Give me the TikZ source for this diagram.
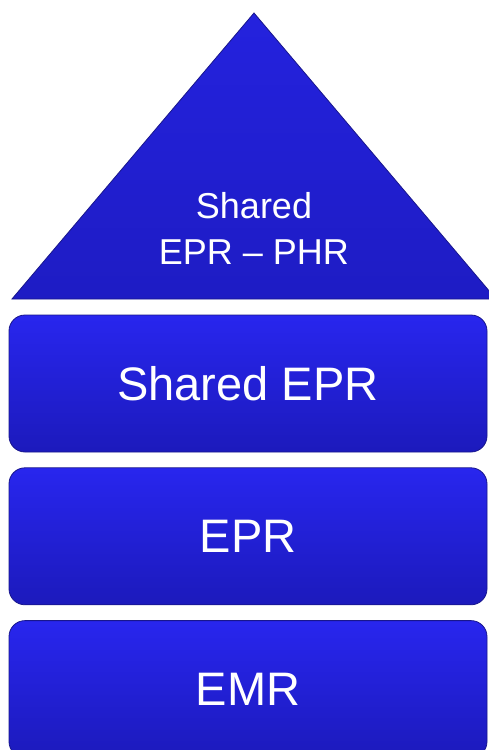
\documentclass[tikz,border=0pt]{standalone}
\usepackage{fontspec}
\setmainfont{Liberation Sans}
\usetikzlibrary{positioning,calc}

\definecolor{layerTop}{RGB}{40,38,238}
\definecolor{layerBot}{RGB}{28,26,188}
\definecolor{layerEdge}{RGB}{24,22,140}
\definecolor{peakTop}{RGB}{36,34,222}
\definecolor{peakBot}{RGB}{30,28,196}

\begin{document}
\begin{tikzpicture}[
  x=1pt,y=-1pt,
  node distance=15pt,
  layer/.style={rectangle,rounded corners=16pt,draw=layerEdge,line width=0.8pt,top color=layerTop,bottom color=layerBot,minimum width=478pt,minimum height=137pt,inner sep=0pt,text=white,font=\fontsize{47}{56}\selectfont},
  peak/.style={draw=layerEdge,line width=0.8pt,top color=peakTop,bottom color=peakBot},
  peaktext/.style={align=center,inner sep=0pt,text=white,font=\fontsize{36}{46}\selectfont}
]
\useasboundingbox (0,0) rectangle (488,750);
% layers of the stack
\node[layer] (sepr) at (248,383.5) {Shared EPR};
\node[layer,below=of sepr] (epr) {EPR};
\node[layer,below=of epr] (emr) {EMR};
% top of the pyramid
\coordinate (apex) at (254,13);
\coordinate (baseL) at (12,299);
\coordinate (baseR) at (496,299);
\draw[peak] (apex) -- (baseR) -- (baseL) -- cycle;
\node[peaktext] (sphr) at (254,228) {Shared\\EPR -- PHR};
\end{tikzpicture}
\end{document}
